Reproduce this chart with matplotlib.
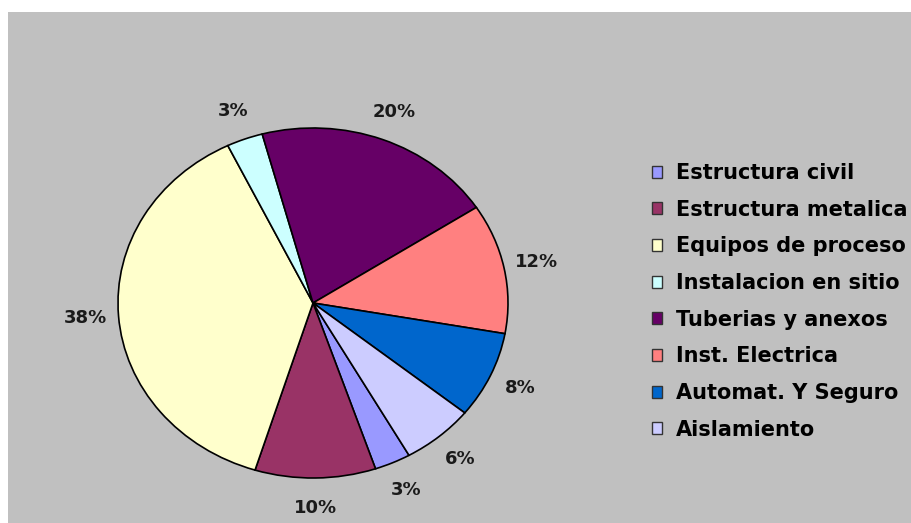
import matplotlib
matplotlib.use("Agg")
import matplotlib.pyplot as plt
from matplotlib.patches import Rectangle

# cost breakdown by item (percent)
items = ["Estructura civil", "Estructura metalica", "Equipos de proceso",
         "Instalacion en sitio", "Tuberias y anexos", "Inst. Electrica",
         "Automat. Y Seguro", "Aislamiento"]
shares = [3, 10, 38, 3, 20, 12, 8, 6]
colors = ["#9999FF", "#993366", "#FFFFCC", "#CCFFFF",
          "#660066", "#FF8080", "#0066CC", "#CCCCFF"]

W, H = 912, 523
fig = plt.figure(figsize=(W / 100, H / 100), dpi=100, facecolor="white")

# grey chart area
fig.patches.append(Rectangle((8 / W, 0), 1, (H - 12) / H, transform=fig.transFigure,
                             facecolor="#C0C0C0", edgecolor="none", zorder=-5))

# axes box is the bounding box of the (slightly squashed) pie
cx, cy, rx, ry = 313, 303, 195, 175
ax = fig.add_axes([(cx - rx) / W, (H - cy - ry) / H, 2 * rx / W, 2 * ry / H])

wedges, texts, pcts = ax.pie(
    shares, colors=colors, startangle=-60.5, counterclock=False,
    autopct=lambda p: f"{p:.0f}%", pctdistance=1.17,
    wedgeprops={"edgecolor": "black", "linewidth": 1.2, "clip_on": False},
    textprops={"fontsize": 13, "fontweight": "bold", "color": "#1a1a1a",
               "family": "DejaVu Sans"})
ax.set_aspect("auto")
ax.set_xlim(-1, 1)
ax.set_ylim(-1, 1)
ax.axis("off")

leg = fig.legend(wedges, items, loc="upper left",
                 bbox_to_anchor=(652 / W, 1 - 163 / H),
                 frameon=False, borderpad=0, borderaxespad=0,
                 handlelength=0.5, handleheight=0.5, handletextpad=0.65,
                 labelspacing=0.8,
                 prop={"family": "DejaVu Sans", "weight": "bold", "size": 15})
for h in leg.legend_handles:
    h.set_linewidth(1.0)
    h.set_edgecolor("#333333")

fig.savefig("out.png", dpi=100, facecolor="white")
